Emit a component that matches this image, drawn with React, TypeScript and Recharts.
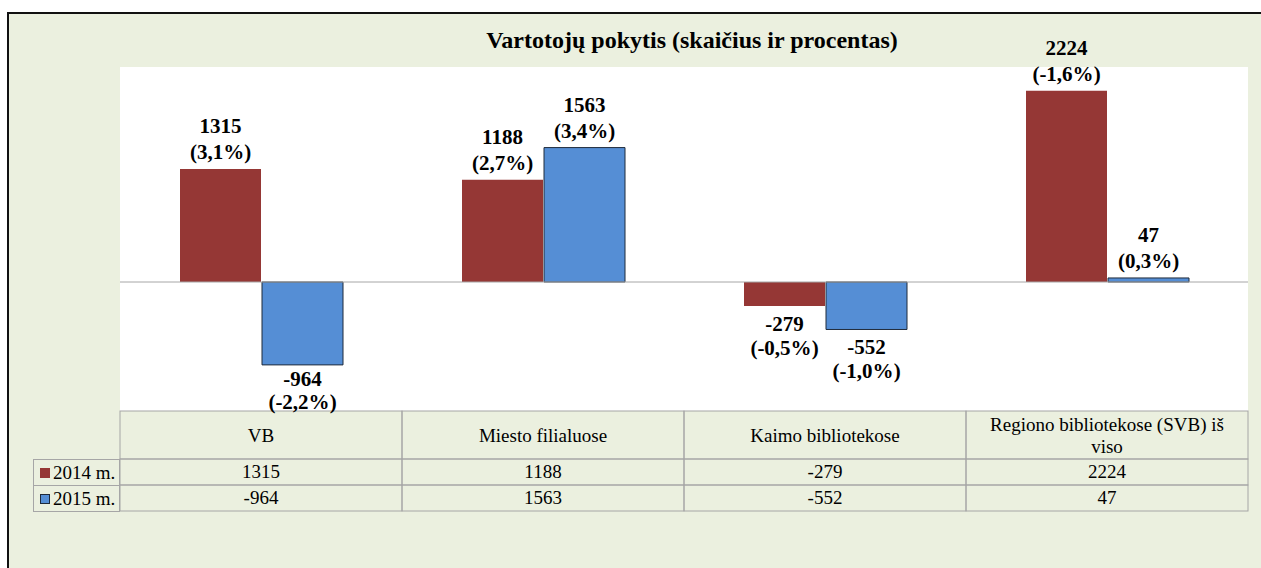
import React from 'react';
import {
  BarChart,
  Bar,
  XAxis,
  YAxis,
  ReferenceLine,
  LabelList,
  Legend,
  CartesianGrid,
} from 'recharts';

// ---------- data ----------
const categories = [
  'VB',
  'Miesto filialuose',
  'Kaimo bibliotekose',
  'Regiono bibliotekose (SVB) iš viso',
];
const values2014 = [1315, 1188, -279, 2224];
const values2015 = [-964, 1563, -552, 47];
const percent2014 = ['3,1%', '2,7%', '-0,5%', '-1,6%'];
const percent2015 = ['-2,2%', '3,4%', '-1,0%', '0,3%'];
const seriesNames = ['2014 m.', '2015 m.'];
const yDomain = [-1500, 2500];
const title = 'Vartotojų pokytis (skaičius ir procentas)';

const data = categories.map((name, i) => ({
  name,
  y2014: values2014[i],
  y2015: values2015[i],
}));

// ---------- layout / style ----------
const W = 1261;
const H = 568;
const PLOT_LEFT = 120;
const PLOT_RIGHT = 1248;
const PLOT_TOP = 67;
const AXIS_H = 100;
const MARGIN_BOTTOM = 57;
const PLOT_BOTTOM = H - MARGIN_BOTTOM - AXIS_H;
const CELL_W = (PLOT_RIGHT - PLOT_LEFT) / categories.length;
const HEADER_H = 48;
const ROW_H = 26;
const FONT = '"Liberation Serif", "Times New Roman", serif';
const TABLE_FS = 19;
const GRID = '#A6A6A6';
const RED = '#953735';
const BLUE = '#558ED5';
const BLUE_STROKE = '#1F2A3A';
const BG = '#EBF0DF';

const makeLabel = (percents: string[]) => (props: any) => {
  const vb = props.viewBox && props.viewBox.width != null ? props.viewBox : props;
  const x = Number(vb.x);
  const y = Number(vb.y);
  const w = Number(vb.width);
  const h = Number(vb.height);
  const value = Number(props.value);
  const idx = props.index;
  const cx = x + w / 2;
  const top = Math.min(y, y + h);
  const bottom = Math.max(y, y + h);
  const pos = value >= 0;
  let y1 = pos ? top - 36 : bottom + 25;
  let y2 = pos ? top - 10 : bottom + 49;
  if (!pos && y2 > PLOT_BOTTOM - 2) {
    const shift = y2 - (PLOT_BOTTOM - 2);
    y2 -= shift;
    y1 = Math.max(bottom + 21, y1 - shift);
  }
  return (
    <g>
      <text x={cx} y={y1} textAnchor="middle" fontFamily={FONT} fontWeight="bold" fontSize={21} fill="#000">
        {props.value}
      </text>
      <text x={cx} y={y2} textAnchor="middle" fontFamily={FONT} fontWeight="bold" fontSize={21} fill="#000">
        ({percents[idx]})
      </text>
    </g>
  );
};

const TableTick = (props: any) => {
  const { x, y, payload, index } = props;
  const left = x - CELL_W / 2;
  const top = y;
  return (
    <g>
      <rect x={left} y={top} width={CELL_W} height={HEADER_H} fill="none" stroke={GRID} />
      <rect x={left} y={top + HEADER_H} width={CELL_W} height={ROW_H} fill="none" stroke={GRID} />
      <rect x={left} y={top + HEADER_H + ROW_H} width={CELL_W} height={ROW_H} fill="none" stroke={GRID} />
      <foreignObject x={x - 125} y={top + 1} width={250} height={HEADER_H}>
        <div
          style={{
            width: 250,
            height: HEADER_H,
            display: 'flex',
            alignItems: 'center',
            justifyContent: 'center',
            textAlign: 'center',
            fontFamily: FONT,
            fontSize: TABLE_FS,
            lineHeight: '22px',
            color: '#000',
          }}
        >
          {payload.value}
        </div>
      </foreignObject>
      <text x={x} y={top + HEADER_H + ROW_H / 2 + 6} textAnchor="middle" fontFamily={FONT} fontSize={TABLE_FS} fill="#000">
        {values2014[index]}
      </text>
      <text x={x} y={top + HEADER_H + ROW_H + ROW_H / 2 + 6} textAnchor="middle" fontFamily={FONT} fontSize={TABLE_FS} fill="#000">
        {values2015[index]}
      </text>
    </g>
  );
};

const LegendTable = (props: any) => {
  const payload = props.payload || [];
  return (
    <div style={{ width: 87, fontFamily: FONT, fontSize: TABLE_FS, color: '#000' }}>
      {payload.map((p: any, i: number) => {
        const stroke = p.payload && p.payload.stroke;
        return (
          <div
            key={i}
            style={{
              boxSizing: 'border-box',
              height: i === 0 ? ROW_H + 1 : ROW_H,
              borderLeft: `1px solid ${GRID}`,
              borderRight: `1px solid ${GRID}`,
              borderBottom: `1px solid ${GRID}`,
              borderTop: i === 0 ? `1px solid ${GRID}` : 'none',
              display: 'flex',
              alignItems: 'center',
              paddingLeft: 6,
              whiteSpace: 'nowrap',
            }}
          >
            <span
              style={{
                display: 'inline-block',
                boxSizing: 'border-box',
                width: 10,
                height: 10,
                background: p.color,
                border: stroke ? `1px solid ${stroke}` : 'none',
                marginRight: 3,
              }}
            />
            <span>{p.value}</span>
          </div>
        );
      })}
    </div>
  );
};

export default function App() {
  return (
    <div
      style={{
        position: 'absolute',
        left: 0,
        top: 0,
        width: W,
        height: H,
        background: '#fff',
        overflow: 'hidden',
        fontFamily: FONT,
      }}
    >
      <div
        style={{
          position: 'absolute',
          left: 7,
          top: 12,
          width: W + 20,
          height: H + 20,
          background: BG,
          border: '2px solid #111',
        }}
      />
      <div
        style={{
          position: 'absolute',
          left: 692 - 350,
          width: 700,
          top: 28,
          textAlign: 'center',
          fontFamily: FONT,
          fontWeight: 'bold',
          fontSize: 24,
          lineHeight: '24px',
          color: '#000',
        }}
      >
        {title}
      </div>
      <div style={{ position: 'absolute', left: 0, top: 0 }}>
        <BarChart
          width={W}
          height={H}
          data={data}
          margin={{ top: PLOT_TOP, left: PLOT_LEFT, right: W - PLOT_RIGHT, bottom: MARGIN_BOTTOM }}
          barCategoryGap={60}
          barGap={1}
        >
          <CartesianGrid horizontal={false} vertical={false} fill="#fff" stroke="none" />
          <YAxis hide width={0} domain={yDomain} type="number" allowDataOverflow />
          <XAxis
            dataKey="name"
            height={AXIS_H}
            axisLine={false}
            tickLine={false}
            tickSize={0}
            tickMargin={0}
            interval={0}
            tick={<TableTick />}
          />
          <ReferenceLine y={0} stroke={GRID} strokeWidth={1} ifOverflow="extendDomain" />
          <Legend
            content={<LegendTable />}
            layout="horizontal"
            align="center"
            verticalAlign="middle"
            wrapperStyle={{ position: 'absolute', left: 33, top: 459, width: 87, height: 53 }}
          />
          <Bar dataKey="y2014" name={seriesNames[0]} fill={RED} isAnimationActive={false}>
            <LabelList dataKey="y2014" content={makeLabel(percent2014)} />
          </Bar>
          <Bar
            dataKey="y2015"
            name={seriesNames[1]}
            fill={BLUE}
            stroke={BLUE_STROKE}
            strokeWidth={1}
            isAnimationActive={false}
          >
            <LabelList dataKey="y2015" content={makeLabel(percent2015)} />
          </Bar>
        </BarChart>
      </div>
    </div>
  );
}
